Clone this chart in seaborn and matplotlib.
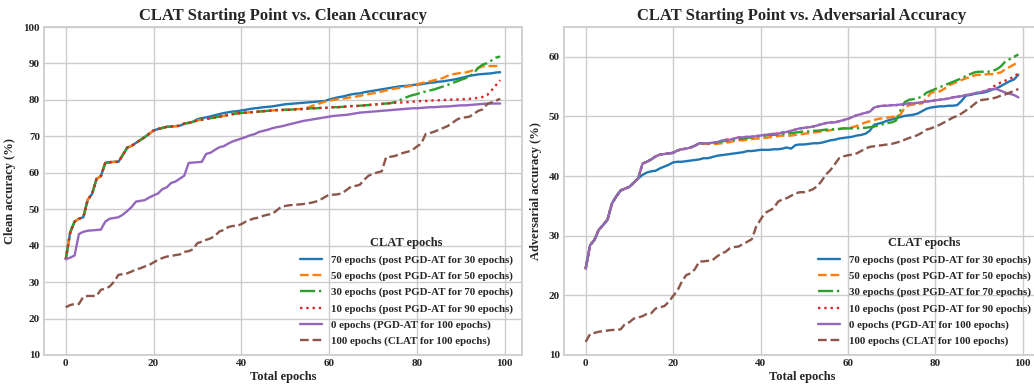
import numpy as np
import matplotlib
matplotlib.use("Agg")
import matplotlib.pyplot as plt
import seaborn as sns

epochs = list(range(100))

labels = [
    "70 epochs (post PGD-AT for 30 epochs)",
    "50 epochs (post PGD-AT for 50 epochs)",
    "30 epochs (post PGD-AT for 70 epochs)",
    "10 epochs (post PGD-AT for 90 epochs)",
    "0 epochs (PGD-AT for 100 epochs)",
    "100 epochs (CLAT for 100 epochs)",
]

# ---------------- Clean accuracy ----------------
clean_70 = [36.3, 43.6, 46.6, 47.4, 47.8, 52.6, 54.2, 58.3, 59.1, 62.7,
            62.9, 63.0, 63.0, 64.9, 66.9, 67.4, 68.2, 69.0, 69.8, 70.7,
            71.6, 72.0, 72.3, 72.6, 72.7, 72.8, 72.9, 73.5, 73.7, 74.0,
            74.7, 75.0, 75.2, 75.5, 75.8, 76.1, 76.4, 76.6, 76.8, 76.9,
            77.1, 77.3, 77.5, 77.7, 77.8, 78.0, 78.1, 78.2, 78.4, 78.6,
            78.8, 78.9, 79.0, 79.1, 79.2, 79.3, 79.4, 79.5, 79.6, 79.7,
            80.1, 80.4, 80.7, 80.9, 81.2, 81.5, 81.7, 81.8, 82.1, 82.3,
            82.5, 82.7, 82.9, 83.1, 83.3, 83.5, 83.7, 83.8, 83.9, 84.1,
            84.2, 84.3, 84.5, 84.7, 84.8, 85.0, 85.1, 85.3, 85.5, 85.7,
            86.0, 86.3, 86.6, 86.8, 87.0, 87.1, 87.2, 87.3, 87.5, 87.6]
clean_50 = [36.3, 43.6, 46.6, 47.4, 47.8, 52.6, 54.2, 58.3, 59.1, 62.7,
            62.9, 63.0, 63.0, 64.9, 66.9, 67.4, 68.2, 69.0, 69.8, 70.7,
            71.6, 72.0, 72.3, 72.6, 72.7, 72.8, 72.9, 73.5, 73.7, 74.0,
            74.4, 74.6, 74.8, 75.0, 75.2, 75.4, 75.6, 75.9, 76.1, 76.3,
            76.4, 76.5, 76.6, 76.7, 76.8, 76.9, 77.0, 77.1, 77.2, 77.2,
            77.3, 77.3, 77.4, 77.5, 77.5, 77.8, 78.3, 78.7, 79.1, 79.5,
            79.8, 80.0, 80.2, 80.4, 80.5, 80.7, 80.9, 81.1, 81.4, 81.6,
            81.8, 82.0, 82.3, 82.6, 82.9, 83.1, 83.3, 83.5, 83.7, 84.0,
            84.3, 84.6, 84.8, 85.1, 85.4, 85.7, 86.0, 86.6, 87.0, 87.2,
            87.4, 87.5, 87.8, 88.2, 88.8, 89.2, 89.3, 89.3, 89.3, 89.4]
clean_30 = [36.3, 43.6, 46.6, 47.4, 47.8, 52.6, 54.2, 58.3, 59.1, 62.7,
            62.9, 63.0, 63.0, 64.9, 66.9, 67.4, 68.2, 69.0, 69.8, 70.7,
            71.6, 72.0, 72.3, 72.6, 72.7, 72.8, 72.9, 73.5, 73.7, 74.0,
            74.4, 74.6, 74.8, 75.0, 75.2, 75.4, 75.6, 75.9, 76.1, 76.3,
            76.4, 76.5, 76.6, 76.7, 76.8, 76.9, 77.0, 77.1, 77.2, 77.2,
            77.3, 77.3, 77.4, 77.5, 77.5, 77.6, 77.7, 77.7, 77.8, 77.8,
            77.9, 78.0, 78.0, 78.1, 78.2, 78.3, 78.3, 78.4, 78.5, 78.6,
            78.7, 78.8, 78.9, 79.0, 79.1, 79.4, 79.9, 80.4, 80.9, 81.3,
            81.6, 82.0, 82.3, 82.6, 82.9, 83.3, 83.7, 84.1, 84.6, 85.0,
            85.5, 85.9, 86.4, 87.4, 88.8, 89.7, 90.1, 90.8, 91.6, 91.9]
clean_10 = [36.3, 43.6, 46.6, 47.4, 47.8, 52.6, 54.2, 58.3, 59.1, 62.7,
            62.9, 63.0, 63.0, 64.9, 66.9, 67.4, 68.2, 69.0, 69.8, 70.7,
            71.6, 72.0, 72.3, 72.6, 72.7, 72.8, 72.9, 73.5, 73.7, 74.0,
            74.4, 74.6, 74.8, 75.0, 75.2, 75.4, 75.6, 75.9, 76.1, 76.3,
            76.4, 76.5, 76.6, 76.7, 76.8, 76.9, 77.0, 77.1, 77.2, 77.2,
            77.3, 77.3, 77.4, 77.5, 77.5, 77.6, 77.7, 77.7, 77.8, 77.8,
            77.9, 78.0, 78.0, 78.1, 78.2, 78.3, 78.3, 78.4, 78.5, 78.6,
            78.7, 78.8, 78.9, 79.0, 79.1, 79.2, 79.3, 79.3, 79.4, 79.5,
            79.6, 79.7, 79.7, 79.8, 79.9, 79.9, 80.0, 80.0, 80.1, 80.1,
            80.2, 80.2, 80.3, 80.4, 80.6, 80.8, 81.3, 82.6, 84.0, 85.4]
clean_0 = [36.3, 36.7, 37.3, 43.2, 43.8, 44.1, 44.2, 44.3, 44.4, 46.6,
           47.4, 47.6, 47.8, 48.5, 49.5, 50.6, 52.1, 52.3, 52.5, 53.2,
           53.8, 54.3, 55.5, 56.0, 57.2, 57.6, 58.4, 59.2, 62.7, 62.8,
           62.9, 63.0, 65.2, 65.5, 66.3, 67.0, 67.3, 68.0, 68.6, 69.0,
           69.4, 69.8, 70.3, 70.6, 71.2, 71.5, 71.8, 72.2, 72.5, 72.7,
           73.0, 73.3, 73.6, 73.9, 74.2, 74.4, 74.6, 74.8, 75.0, 75.2,
           75.4, 75.6, 75.7, 75.8, 75.9, 76.1, 76.3, 76.5, 76.6, 76.7,
           76.8, 76.9, 77.0, 77.1, 77.2, 77.3, 77.4, 77.5, 77.6, 77.7,
           77.7, 77.8, 77.9, 78.0, 78.0, 78.1, 78.2, 78.2, 78.3, 78.4,
           78.5, 78.5, 78.6, 78.7, 78.8, 78.9, 79.0, 79.0, 79.0, 79.0]
clean_100 = [23.1, 23.7, 24.0, 24.0, 26.0, 26.2, 26.2, 26.2, 27.9, 28.2,
             28.8, 30.1, 32.0, 32.2, 32.4, 32.9, 33.5, 33.8, 34.3, 34.7,
             35.4, 36.1, 36.6, 37.0, 37.2, 37.4, 37.6, 38.3, 38.5, 39.0,
             40.7, 41.1, 41.6, 42.0, 42.7, 43.9, 44.3, 45.1, 45.4, 45.4,
             45.9, 46.6, 47.1, 47.5, 47.7, 48.2, 48.5, 48.7, 49.6, 50.6,
             50.9, 51.1, 51.2, 51.3, 51.4, 51.6, 51.8, 52.1, 52.6, 53.3,
             54.0, 54.0, 54.1, 54.4, 55.3, 56.2, 56.4, 56.7, 58.1, 59.2,
             59.7, 60.1, 60.4, 64.3, 64.4, 64.6, 65.1, 65.5, 65.8, 66.3,
             67.2, 68.0, 70.6, 70.9, 71.3, 71.8, 72.3, 72.8, 73.6, 74.5,
             75.1, 75.2, 75.4, 76.2, 77.0, 77.4, 78.8, 79.3, 79.8, 80.3]

# ---------------- Adversarial accuracy ----------------
adv_70 = [24.5, 28.4, 29.3, 31.0, 31.8, 32.7, 35.4, 36.6, 37.6, 37.9,
          38.2, 38.9, 39.6, 40.2, 40.6, 40.8, 40.9, 41.3, 41.6, 41.9,
          42.3, 42.4, 42.4, 42.5, 42.6, 42.7, 42.8, 43.0, 43.0, 43.2,
          43.4, 43.5, 43.6, 43.7, 43.8, 43.9, 44.0, 44.2, 44.2, 44.3,
          44.4, 44.4, 44.4, 44.5, 44.5, 44.6, 44.8, 44.6, 45.2, 45.3,
          45.3, 45.4, 45.5, 45.5, 45.6, 45.8, 46.0, 46.1, 46.3, 46.4,
          46.5, 46.6, 46.8, 46.9, 47.1, 47.6, 48.6, 48.8, 49.0, 49.3,
          49.5, 49.7, 49.9, 50.1, 50.2, 50.3, 50.5, 50.9, 51.3, 51.5,
          51.6, 51.7, 51.7, 51.8, 51.8, 51.9, 52.6, 53.5, 53.6, 53.8,
          53.9, 54.0, 54.2, 54.5, 54.7, 55.1, 55.5, 55.9, 56.2, 57.0]
adv_50 = [24.5, 28.4, 29.3, 31.0, 31.8, 32.7, 35.4, 36.6, 37.6, 37.9,
          38.2, 38.9, 39.6, 42.1, 42.4, 42.8, 43.3, 43.6, 43.7, 43.8,
          43.9, 44.3, 44.5, 44.6, 44.8, 45.1, 45.5, 45.4, 45.4, 45.4,
          45.4, 45.5, 45.6, 45.7, 45.9, 46.0, 46.0, 46.1, 46.2, 46.3,
          46.3, 46.4, 46.5, 46.6, 46.7, 46.8, 46.7, 46.8, 46.9, 47.0,
          47.1, 47.2, 47.3, 47.4, 47.5, 47.6, 47.7, 47.8, 47.9, 48.0,
          48.0, 48.2, 48.4, 48.7, 49.0, 49.2, 49.4, 49.6, 49.7, 49.8,
          49.9, 50.0, 50.3, 51.5, 51.9, 52.0, 52.1, 52.2, 53.0, 54.0,
          54.1, 54.2, 54.6, 55.2, 55.5, 55.8, 56.1, 56.4, 56.6, 56.9,
          57.0, 57.0, 57.1, 57.1, 57.2, 57.4, 57.9, 58.3, 58.7, 59.2]
adv_30 = [24.5, 28.4, 29.3, 31.0, 31.8, 32.7, 35.4, 36.6, 37.6, 37.9,
          38.2, 38.9, 39.6, 42.1, 42.4, 42.8, 43.3, 43.6, 43.7, 43.8,
          43.9, 44.3, 44.5, 44.6, 44.8, 45.1, 45.5, 45.5, 45.5, 45.6,
          45.6, 45.8, 45.9, 46.0, 46.1, 46.2, 46.3, 46.4, 46.5, 46.6,
          46.7, 46.8, 46.9, 46.9, 47.0, 47.1, 47.1, 47.2, 47.3, 47.4,
          47.5, 47.5, 47.6, 47.6, 47.7, 47.8, 47.8, 47.9, 47.9, 48.0,
          48.0, 48.0, 48.0, 48.1, 48.1, 48.2, 48.3, 48.5, 48.7, 48.9,
          49.0, 49.3, 51.0, 52.4, 52.8, 52.9, 53.1, 53.3, 54.0, 54.3,
          54.6, 54.9, 55.2, 55.5, 55.8, 56.1, 56.4, 56.8, 57.1, 57.4,
          57.5, 57.5, 57.5, 57.6, 57.9, 58.4, 59.2, 59.6, 60.0, 60.4]
adv_0 = [24.5, 28.4, 29.3, 31.0, 31.8, 32.7, 35.4, 36.6, 37.6, 37.9,
         38.2, 38.9, 39.6, 42.1, 42.4, 42.8, 43.3, 43.6, 43.7, 43.8,
         43.9, 44.3, 44.5, 44.6, 44.8, 45.1, 45.5, 45.5, 45.5, 45.6,
         45.7, 45.9, 46.1, 46.1, 46.3, 46.5, 46.5, 46.6, 46.6, 46.7,
         46.8, 46.9, 47.0, 47.1, 47.1, 47.3, 47.4, 47.6, 47.8, 48.0,
         48.1, 48.2, 48.3, 48.5, 48.7, 48.9, 49.0, 49.0, 49.2, 49.4,
         49.6, 49.9, 50.2, 50.4, 50.6, 50.8, 51.5, 51.7, 51.8, 51.8,
         51.9, 51.9, 52.0, 52.1, 52.2, 52.2, 52.3, 52.4, 52.5, 52.6,
         52.7, 52.8, 52.9, 53.0, 53.2, 53.3, 53.4, 53.6, 53.7, 53.9,
         54.0, 54.2, 54.4, 54.6, 54.6, 54.3, 54.0, 53.8, 53.6, 53.2]
adv_10 = [24.5, 28.4, 29.3, 31.0, 31.8, 32.7, 35.4, 36.6, 37.6, 37.9,
          38.2, 38.9, 39.6, 42.1, 42.4, 42.8, 43.3, 43.6, 43.7, 43.8,
          43.9, 44.3, 44.5, 44.6, 44.8, 45.1, 45.5, 45.5, 45.5, 45.6,
          45.7, 45.9, 46.1, 46.1, 46.3, 46.5, 46.5, 46.6, 46.6, 46.7,
          46.8, 46.9, 47.0, 47.1, 47.1, 47.3, 47.4, 47.6, 47.8, 48.0,
          48.1, 48.2, 48.3, 48.5, 48.7, 48.9, 49.0, 49.0, 49.2, 49.4,
          49.6, 49.9, 50.2, 50.4, 50.6, 50.8, 51.5, 51.7, 51.8, 51.8,
          51.9, 51.9, 52.0, 52.1, 52.2, 52.2, 52.3, 52.4, 52.5, 52.6,
          52.7, 52.8, 52.9, 53.0, 53.2, 53.3, 53.4, 53.6, 53.7, 53.9,
          54.0, 54.2, 54.4, 54.9, 55.3, 55.7, 56.0, 56.3, 56.7, 57.2]
adv_100 = [12.2, 13.5, 13.7, 13.9, 14.0, 14.1, 14.2, 14.2, 14.3, 15.2,
           15.5, 16.1, 16.3, 16.5, 16.9, 17.0, 17.8, 18.0, 18.2, 18.9,
           19.9, 20.8, 22.3, 23.4, 23.7, 24.4, 25.7, 25.7, 25.8, 25.9,
           26.5, 27.0, 27.3, 27.9, 28.1, 28.2, 28.6, 29.0, 29.4, 31.5,
           32.7, 33.8, 34.2, 34.6, 35.7, 36.1, 36.3, 36.7, 37.1, 37.3,
           37.3, 37.5, 37.8, 38.3, 39.2, 40.3, 41.0, 42.0, 43.0, 43.3,
           43.5, 43.6, 43.8, 44.2, 44.6, 44.9, 45.0, 45.1, 45.2, 45.3,
           45.4, 45.6, 45.8, 46.1, 46.4, 46.6, 46.9, 47.3, 47.8, 48.0,
           48.3, 48.6, 49.0, 49.4, 49.8, 50.1, 50.5, 51.0, 51.5, 52.1,
           52.7, 52.8, 52.9, 53.0, 53.2, 53.5, 53.7, 54.0, 54.3, 54.6]

clean_series = [clean_70, clean_50, clean_30, clean_10, clean_0, clean_100]
adv_series = [adv_70, adv_50, adv_30, adv_10, adv_0, adv_100]

colors = sns.color_palette("tab10", 6)
styles = ["-", "--", "-.", ":", "-", "--"]

sns.set_theme(style="whitegrid")
plt.rcParams["font.family"] = ["Liberation Serif", "DejaVu Serif"]
plt.rcParams["font.weight"] = "bold"
plt.rcParams["axes.labelweight"] = "bold"
plt.rcParams["axes.titleweight"] = "bold"

fig = plt.figure(figsize=(10.34, 3.87), dpi=100)
ax1 = fig.add_axes([0.0426, 0.0827, 0.4622, 0.8475])
ax2 = fig.add_axes([0.5455, 0.0827, 0.4603, 0.8475])

panels = [
    (ax1, clean_series, "CLAT Starting Point vs. Clean Accuracy", "Clean accuracy (%)", (10, 100), np.arange(10, 101, 10)),
    (ax2, adv_series, "CLAT Starting Point vs. Adversarial Accuracy", "Adversarial accuracy (%)", (10, 65), np.arange(10, 61, 10)),
]

for ax, series, title, ylabel, ylim, yticks in panels:
    for vals, lab, col, ls in zip(series, labels, colors, styles):
        sns.lineplot(x=epochs, y=vals, ax=ax, color=col, linestyle=ls,
                     linewidth=1.7, label=lab)
    ax.set_title(title, fontsize=12, fontweight="bold", pad=5)
    ax.set_xlabel("Total epochs", fontsize=9, fontweight="bold", labelpad=2)
    ax.set_ylabel(ylabel, fontsize=9, fontweight="bold", labelpad=5)
    ax.set_ylim(*ylim)
    ax.set_yticks(yticks)
    ax.set_xticks([0, 20, 40, 60, 80, 100])
    ax.tick_params(axis="both", labelsize=8, pad=3, length=0)
    for t in ax.get_xticklabels() + ax.get_yticklabels():
        t.set_fontweight("bold")
    leg = ax.legend(title="CLAT epochs", loc="lower right", frameon=False,
                    prop={"size": 7.8, "weight": "bold"}, labelspacing=0.58,
                    borderaxespad=0.45)
    leg.get_title().set_fontsize(9)
    leg.get_title().set_fontweight("bold")

fig.savefig("out.png", dpi=100)
